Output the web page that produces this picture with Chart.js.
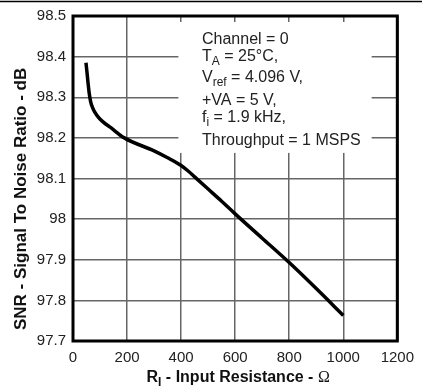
<!DOCTYPE html>
<html>
<head>
<meta charset="utf-8">
<script src="https://cdn.jsdelivr.net/npm/chart.js@4.4.1/dist/chart.umd.min.js"></script>
<style>
  html, body { margin: 0; padding: 0; background: #fff; }
</style>
</head>
<body>
<canvas id="snrChart" width="422" height="390"></canvas>
<script>
// values
var resistance = [48, 52, 56, 60, 65, 72, 80, 95, 110, 140, 190, 300, 350, 400, 425, 450, 500, 550, 600, 700, 800, 900, 1000];
var snr = [98.385, 98.36, 98.333, 98.31, 98.29, 98.275, 98.264, 98.25, 98.24, 98.225, 98.2, 98.168, 98.151, 98.132, 98.119, 98.104, 98.074, 98.044, 98.013, 97.953, 97.893, 97.829, 97.763];
var xTicks = [0, 200, 400, 600, 800, 1000, 1200];
var yTicks = [97.7, 97.8, 97.9, 98, 98.1, 98.2, 98.3, 98.4, 98.5];

// note text: [text, subscript?]
var noteLines = [
  [['Channel = 0']],
  [['T'], ['A', 1], [' = 25°C,']],
  [['V'], ['ref', 1], [' = 4.096 V,']],
  [['+VA = 5 V,']],
  [['f'], ['i', 1], [' = 1.9 kHz,']],
  [['Throughput = 1 MSPS']]
];
var noteBaselines = [28, 45, 66, 89, 106, 129];

var FONT = '"Liberation Sans", Arial, sans-serif';

function drawRich(ctx, parts, x, y, size, bold) {
  parts.forEach(function (p) {
    var sub = p[1] === 1;
    var serif = p[1] === 2;
    var fs = sub ? Math.round(size * 0.75) : size;
    ctx.font = (bold && !serif ? 'bold ' : '') + fs + 'px ' + (serif ? '"Liberation Serif", serif' : FONT);
    ctx.fillText(p[0], x, y + (sub ? 4 : 0));
    x += ctx.measureText(p[0]).width;
  });
}

function richWidth(ctx, parts, size, bold) {
  var w = 0;
  parts.forEach(function (p) {
    var sub = p[1] === 1;
    var serif = p[1] === 2;
    var fs = sub ? Math.round(size * 0.75) : size;
    ctx.font = (bold && !serif ? 'bold ' : '') + fs + 'px ' + (serif ? '"Liberation Serif", serif' : FONT);
    w += ctx.measureText(p[0]).width;
  });
  return w;
}

var decor = {
  id: 'decor',
  beforeDatasetsDraw: function (chart) {
    var ctx = chart.ctx, a = chart.chartArea;
    var xs = chart.scales.x, ys = chart.scales.y;
    ctx.save();
    // white box behind the conditions text
    var bx1 = xs.getPixelForValue(390), bx2 = xs.getPixelForValue(1105);
    var by1 = a.top + 6, by2 = ys.getPixelForValue(98.163);
    ctx.fillStyle = '#fff';
    ctx.fillRect(bx1, by1, bx2 - bx1, by2 - by1);
    ctx.fillStyle = '#222';
    ctx.textBaseline = 'alphabetic';
    noteLines.forEach(function (line, i) {
      drawRich(ctx, line, 202, a.top + noteBaselines[i], 16, false);
    });
    ctx.restore();
  },
  afterDraw: function (chart) {
    var ctx = chart.ctx, a = chart.chartArea;
    ctx.save();
    // frame
    ctx.strokeStyle = '#000';
    ctx.lineWidth = 3;
    ctx.strokeRect(a.left, a.top, a.right - a.left, a.bottom - a.top);
    // page rule at the top
    ctx.lineWidth = 1.5;
    ctx.beginPath();
    ctx.moveTo(0, 1.5);
    ctx.lineTo(422, 1.5);
    ctx.stroke();
    // axis titles
    ctx.fillStyle = '#111';
    ctx.textBaseline = 'alphabetic';
    var xt = [['R'], ['I', 1], [' - Input Resistance - '], ['\u03A9', 2]];
    var w = richWidth(ctx, xt, 16, true);
    drawRich(ctx, xt, (a.left + a.right) / 2 - w / 2 + 3, 382, 16, true);
    ctx.translate(26, a.bottom - 11);
    ctx.rotate(-Math.PI / 2);
    ctx.font = 'bold 17px ' + FONT;
    ctx.textAlign = 'left';
    ctx.fillText('SNR - Signal To Noise Ratio - dB', 0, 0);
    ctx.restore();
  }
};

var points = resistance.map(function (r, i) { return { x: r, y: snr[i] }; });

new Chart(document.getElementById('snrChart'), {
  type: 'line',
  data: {
    datasets: [{
      data: points,
      borderColor: '#000',
      borderWidth: 3.5,
      pointRadius: 0,
      fill: false,
      cubicInterpolationMode: 'monotone'
    }]
  },
  options: {
    responsive: false,
    animation: false,
    devicePixelRatio: 1,
    layout: { padding: { top: 16, right: 21, left: 0, bottom: 0 } },
    plugins: { legend: { display: false }, tooltip: { enabled: false } },
    scales: {
      x: {
        type: 'linear',
        min: 0,
        max: 1200,
        afterBuildTicks: function (s) { s.ticks = xTicks.map(function (v) { return { value: v }; }); },
        afterFit: function (s) { s.height = 49; },
        grid: { color: '#666', lineWidth: 1.5, drawTicks: false },
        border: { display: false },
        ticks: {
          color: '#222',
          padding: 8,
          maxRotation: 0,
          font: { family: FONT, size: 15 },
          callback: function (v) { return String(v); }
        }
      },
      y: {
        min: 97.7,
        max: 98.5,
        afterBuildTicks: function (s) { s.ticks = yTicks.map(function (v) { return { value: v }; }); },
        afterFit: function (s) { s.width = 73; },
        grid: { color: '#666', lineWidth: 1.5, drawTicks: false },
        border: { display: false },
        ticks: {
          color: '#222',
          padding: 7,
          font: { family: FONT, size: 15 },
          callback: function (v) { return String(+v.toFixed(1)); }
        }
      }
    }
  },
  plugins: [decor]
});
</script>
</body>
</html>
